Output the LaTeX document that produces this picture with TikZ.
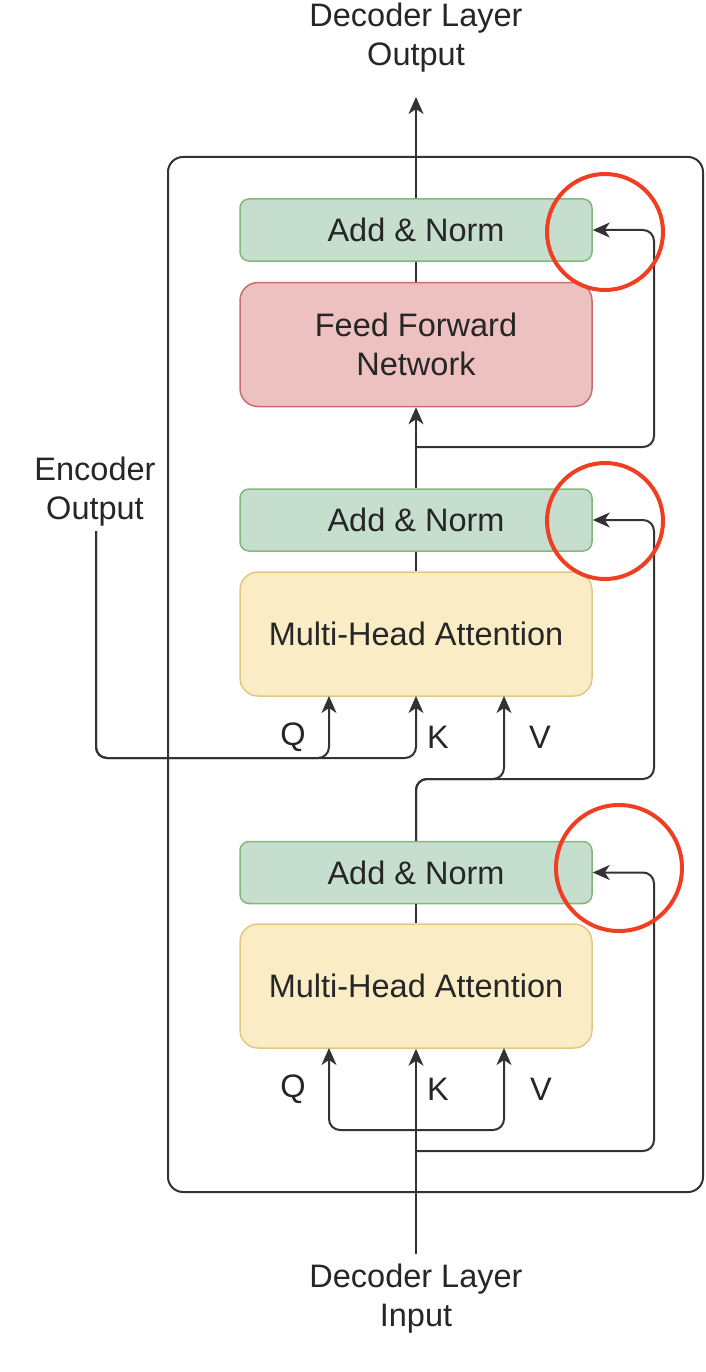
\documentclass[tikz,border=0pt]{standalone}
\usepackage{fontspec}
\setmainfont{Liberation Sans}
\usetikzlibrary{arrows.meta,calc}
\definecolor{edgec}{RGB}{51,51,51}
\definecolor{txtc}{RGB}{38,38,38}
\definecolor{gfill}{RGB}{198,222,206}
\definecolor{gdraw}{RGB}{130,184,120}
\definecolor{rfill}{RGB}{238,193,193}
\definecolor{rdraw}{RGB}{200,110,108}
\definecolor{yfill}{RGB}{250,237,197}
\definecolor{ydraw}{RGB}{225,200,130}
\definecolor{hl}{RGB}{240,62,35}
\tikzset{
  lbl/.style={font=\fontsize{32.5pt}{39pt}\selectfont, text=txtc, inner sep=0pt, align=center},
  anbox/.style={lbl, draw=gdraw, fill=gfill, line width=1.5pt, rounded corners=9pt, minimum width=352pt, minimum height=62pt},
  ffbox/.style={lbl, draw=rdraw, fill=rfill, line width=1.5pt, rounded corners=18pt, minimum width=352pt, minimum height=124pt},
  mhbox/.style={lbl, draw=ydraw, fill=yfill, line width=1.5pt, rounded corners=18pt, minimum width=352pt, minimum height=124pt},
  outerbox/.style={draw=edgec, line width=2pt, rounded corners=15pt, inner sep=0pt},
  conn/.style={draw=edgec, line width=2pt, rounded corners=11pt},
  arr/.style={conn, -{Stealth[length=17pt,width=15pt,inset=5pt]}},
  hlcirc/.style={circle, draw=hl, line width=4pt, inner sep=0pt},
}
\begin{document}
\begin{tikzpicture}[x=1pt,y=-1pt]
\useasboundingbox (0,0) rectangle (705,1372);
% outer layer box
\node[outerbox, minimum width=535pt, minimum height=1035pt] (layer) at (435.5,674.5) {};
% texts
\node[lbl] (outtxt) at (416,38) {Decoder Layer\\Output};
\node[lbl] (intxt) at (416,1299) {Decoder Layer\\Input};
\node[lbl] (enctxt) at (95,492) {Encoder\\Output};
% boxes
\node[anbox] (an3) at (416,230) {Add \& Norm};
\node[ffbox] (ffn) at (416,344.5) {Feed Forward\\Network};
\node[anbox] (an2) at (416,520) {Add \& Norm};
\node[mhbox] (mha2) at (416,634) {Multi-Head Attention};
\node[anbox] (an1) at (416,872.5) {Add \& Norm};
\node[mhbox] (mha1) at (416,986) {Multi-Head Attention};
% QKV labels
\node[lbl] (q2) at (293,737.5) {Q};
\node[lbl] (k2) at (438,737.5) {K};
\node[lbl] (v2) at (540,737.5) {V};
\node[lbl] (q1) at (293,1089) {Q};
\node[lbl] (k1) at (438,1089) {K};
\node[lbl] (v1) at (541,1089) {V};
% coordinates
\coordinate (outtip) at (416,97);
\coordinate (j2) at (416,447);
\coordinate (c2) at (654,447);
\coordinate (encstart) at (96,531);
\coordinate (encq) at (329,758);
\coordinate (enck) at (416,758);
\coordinate (q2in) at (329,696);
\coordinate (k2in) at (416,696);
\coordinate (vrow) at (504,779);
\coordinate (v2in) at (504,696);
\coordinate (c1) at (654,779);
\coordinate (inp) at (416,1254);
\coordinate (jq1) at (416,1130);
\coordinate (q1in) at (329,1048);
\coordinate (v1in) at (504,1048);
\coordinate (jr1) at (416,1151);
\coordinate (c0) at (654,1151);
% connectors
\draw[arr] (an3.north) -- (outtip);
\draw[conn] (ffn.north) -- (an3.south);
\draw[arr] (an2.north) -- (ffn.south);
\draw[arr] (j2) -- (c2) |- (an3.east);
\draw[conn] (mha2.north) -- (an2.south);
\draw[arr] (encstart) |- (encq) -- (q2in);
\draw[arr] (encstart) |- (enck) -- (k2in);
\draw[arr] (an1.north) |- (vrow) -- (v2in);
\draw[arr] (an1.north) |- (c1) |- (an2.east);
\draw[conn] (mha1.north) -- (an1.south);
\draw[arr] (inp) -- (mha1.south);
\draw[arr] (jq1) -| (q1in);
\draw[arr] (jq1) -| (v1in);
\draw[arr] (jr1) -- (c0) |- (an1.east);
% highlight circles
\node[hlcirc, minimum size=116pt] (h3) at (605,232) {};
\node[hlcirc, minimum size=116pt] (h2) at (605,521) {};
\node[hlcirc, minimum size=126pt] (h1) at (619,868) {};
\end{tikzpicture}
\end{document}
